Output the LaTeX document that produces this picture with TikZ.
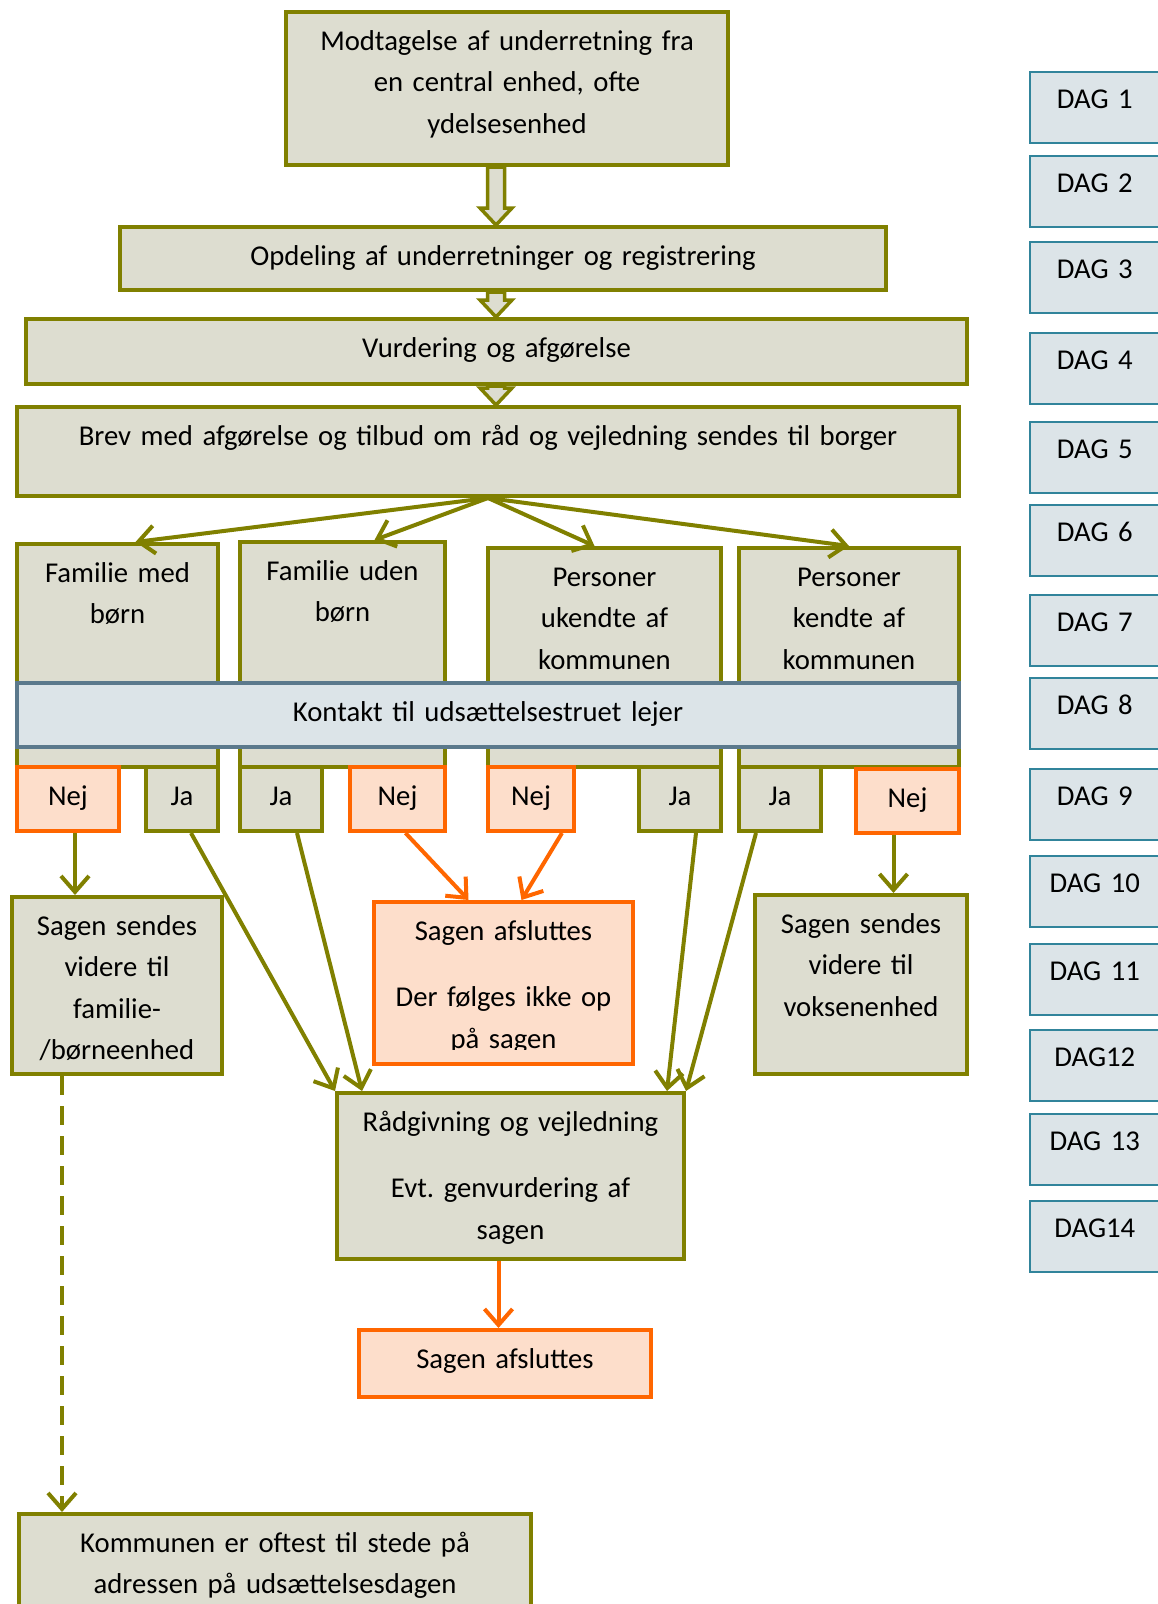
\documentclass[tikz,border=0pt]{standalone}
\usepackage{fontspec}
\setmainfont{Carlito}
\frenchspacing
\usetikzlibrary{arrows.meta,calc}

\definecolor{olivec}{RGB}{128,128,0}
\definecolor{beige}{RGB}{221,221,208}
\definecolor{orangec}{RGB}{255,102,0}
\definecolor{peach}{RGB}{253,222,203}
\definecolor{barfill}{RGB}{220,228,232}
\definecolor{barline}{RGB}{91,121,140}
\definecolor{dagline}{RGB}{49,132,155}

\newcommand{\hollowarrow}[2]{%
  \draw[hollow] let \p1=(#1), \p2=(#2) in
    (\x1-8.5pt,\y1) -- (\x1-8.5pt,\y2+17pt) -- (\x1-16pt,\y2+17pt) -- (\x1,\y2)
    -- (\x1+16pt,\y2+17pt) -- (\x1+8.5pt,\y2+17pt) -- (\x1+8.5pt,\y1) -- cycle;}

\begin{document}
\begin{tikzpicture}[x=1pt, y=-1pt,
  font=\fontsize{28.7}{41.5}\selectfont,
  box/.style={line width=4pt, inner sep=0pt, anchor=north west, align=center, text height=38pt},
  obox/.style={box, draw=olivec, fill=beige},
  rbox/.style={box, draw=orangec, fill=peach},
  sz/.style 2 args={text width=#1pt, text depth=#2pt},
  bar/.style={box, draw=barline, fill=barfill},
  dag/.style={draw=dagline, fill=barfill, line width=1.5pt, inner sep=0pt, anchor=north west,
    align=center, text width=130pt, text height=37pt, text depth=34pt},
  oarr/.style={draw=olivec, line width=4pt, -{Straight Barb[length=16pt,width=28pt]}},
  rarr/.style={draw=orangec, line width=4pt, -{Straight Barb[length=16pt,width=28pt]}},
  hollow/.style={draw=olivec, fill=beige, line width=3.5pt, line join=miter}]

\useasboundingbox (0,0) rectangle (1157,1604);

\node[obox, sz={442}{115}] (modt) at (284,10) {Modtagelse af underretning fra\\en central enhed, ofte\\ydelsesenhed};
\node[obox, sz={766}{25}] (opdel) at (118,225) {Opdeling af underretninger og registrering};
\node[obox, sz={941}{27}] (vurd) at (24,317) {Vurdering og afgørelse};
\node[obox, sz={942}{51}] (brev) at (15,405) {Brev med afgørelse og tilbud om råd og vejledning sendes til borger};

\coordinate (spine) at (496,0);
\hollowarrow{spine |- modt.south}{spine |- opdel.north}
\hollowarrow{spine |- opdel.south}{spine |- vurd.north}
\hollowarrow{spine |- vurd.south}{spine |- brev.north}

\node[obox, sz={201}{185}] (fam1) at (15,542) {Familie med\\børn};
\node[obox, sz={205}{187}] (fam2) at (238,540) {Familie uden\\børn};
\node[obox, sz={233}{181}] (fam3) at (486,546) {Personer\\ukendte af\\kommunen};
\node[obox, sz={220}{181}] (fam4) at (737,546) {Personer\\kendte af\\kommunen};

\node[bar, sz={942}{26}] (kontakt) at (15,681) {Kontakt til udsættelsestruet lejer};

\node[rbox, sz={102}{26}] (nej1) at (15,765) {Nej};
\node[obox, sz={72}{26}] (ja1) at (144,765) {Ja};
\node[obox, sz={82}{26}] (ja2) at (238,765) {Ja};
\node[rbox, sz={95}{26}] (nej2) at (348,765) {Nej};
\node[rbox, sz={86}{26}] (nej3) at (486,765) {Nej};
\node[obox, sz={82}{26}] (ja3) at (637,765) {Ja};
\node[obox, sz={82}{26}] (ja4) at (737,765) {Ja};
\node[rbox, sz={103}{26}] (nej4) at (854,767) {Nej};

\node[obox, sz={210}{139}] (sendl) at (10,895) {Sagen sendes\\videre til\\familie-\\/børneenhed};
\node[rbox, sz={259}{124}] (safsl) at (372,900) {Sagen afsluttes\\[25pt]Der følges ikke op\\på sagen};
\fill[peach] ([xshift=4pt,yshift=4pt]safsl.south west) rectangle ([xshift=-4pt,yshift=16pt]safsl.south east);
\node[obox, sz={212}{141}] (sendr) at (753,893) {Sagen sendes\\videre til\\voksenenhed};
\node[obox, sz={347}{128}] (raad) at (335,1091) {Rådgivning og vejledning\\[25pt]Evt. genvurdering af\\sagen};
\node[rbox, sz={292}{29}] (slut) at (357,1328) {Sagen afsluttes};
\node[obox, sz={512}{82}] (kommune) at (17,1512) {Kommunen er oftest til stede på\\adressen på udsættelsesdagen};

\draw[oarr] (brev.south) -- ([xshift=18pt]fam1.north);
\draw[oarr] (brev.south) -- ([xshift=32pt]fam2.north);
\draw[oarr] (brev.south) -- ([xshift=-10pt]fam3.north);
\draw[oarr] (brev.south) -- (fam4.north);

\draw[oarr] ([xshift=7pt]nej1.south) -- ([xshift=7pt]nej1.south |- sendl.north);
\draw[oarr] ([xshift=9pt]ja1.south) -- (raad.north west);
\draw[oarr] ([xshift=16pt]ja2.south) -- ([xshift=27pt]raad.north west);
\draw[rarr] ([xshift=8pt]nej2.south) -- ([xshift=-35pt]safsl.north);
\draw[rarr] ([xshift=31pt]nej3.south) -- ([xshift=18pt]safsl.north);
\draw[oarr] ([xshift=16pt]ja3.south) -- ([xshift=-19pt]raad.north east);
\draw[oarr] ([xshift=-24pt]ja4.south) -- (raad.north east);
\draw[oarr] ([xshift=-14pt]nej4.south) -- ([xshift=-14pt]nej4.south |- sendr.north);
\draw[rarr] ([xshift=-12pt]raad.south) -- ([xshift=-12pt]raad.south |- slut.north);
\draw[oarr, dash pattern=on 19pt off 11pt] ([xshift=-55pt]sendl.south) -- ([xshift=-55pt]sendl.south |- kommune.north);

\foreach \yy/\dd [count=\i] in {71/DAG 1, 155/DAG 2, 241/DAG 3, 332/DAG 4, 421/DAG 5, 504/DAG 6,
    594/DAG 7, 677/DAG 8, 768/DAG 9, 855/DAG 10, 943/DAG 11, 1029/DAG12, 1113/DAG 13, 1200/DAG14}
  \node[dag] (dag\i) at (1029,\yy) {\dd};

\end{tikzpicture}
\end{document}
